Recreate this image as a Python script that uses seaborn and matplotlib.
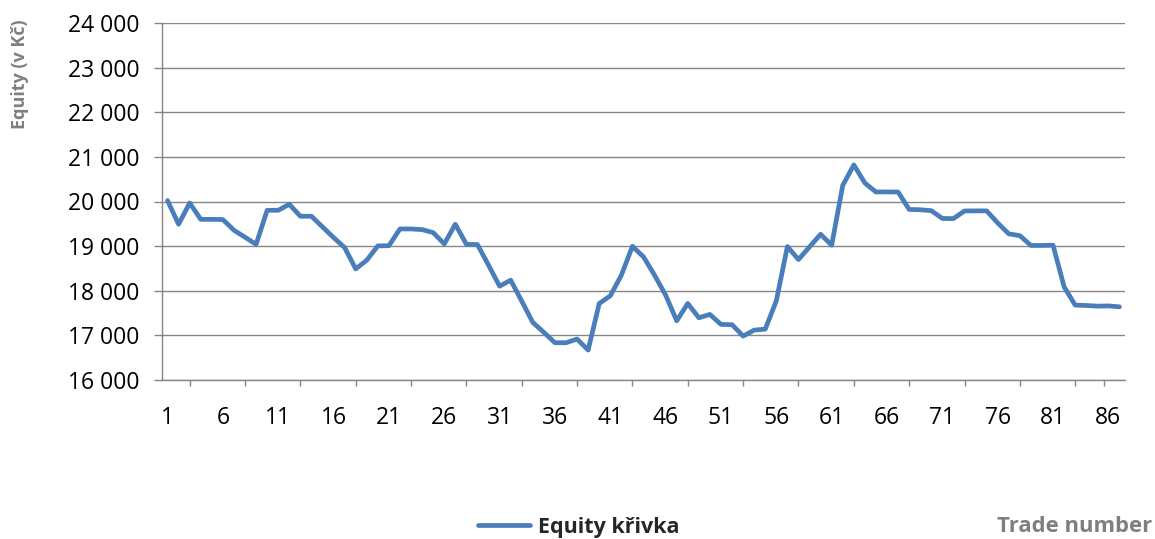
import numpy as np
import pandas as pd
import matplotlib
matplotlib.use("Agg")
import matplotlib.pyplot as plt
import seaborn as sns
from matplotlib.ticker import FixedLocator, FuncFormatter

# Equity after each trade.
equity = [
    20020, 19490, 19966, 19600, 19600, 19595, 19356, 19200, 19040, 19803,
    19803, 19937, 19670, 19670, 19430, 19192, 18968, 18490, 18685, 19005,
    19010, 19385, 19385, 19370, 19303, 19050, 19490, 19040, 19035, 18573,
    18103, 18237, 17767, 17290, 17067, 16835, 16835, 16917, 16671, 17715,
    17886, 18349, 18995, 18760, 18349, 17902, 17327, 17715, 17394, 17470,
    17246, 17240, 16984, 17118, 17140, 17775, 18990, 18700, 18983, 19266,
    19020, 20362, 20820, 20414, 20213, 20215, 20213, 19822, 19815, 19795,
    19620, 19617, 19788, 19790, 19790, 19520, 19275, 19235, 19015, 19015,
    19020, 18087, 17678, 17670, 17655, 17660, 17640,
]
trade_number = list(range(1, len(equity) + 1))
x_labels = list(range(1, len(equity) + 1, 5))
y_ticks = list(range(16000, 24001, 1000))

series_name = "Equity křivka"
df = pd.DataFrame({"Trade number": trade_number, "Equity": equity, "serie": series_name})

sns.set_style("white")
plt.rcParams["font.family"] = ["Open Sans", "DejaVu Sans"]

grey = "#868686"
fig = plt.figure(figsize=(11.55, 5.39), dpi=100)
ax = fig.add_axes([162 / 1155, 1 - 380 / 539, (1125 - 162) / 1155, (380 - 23) / 539])

sns.lineplot(data=df, x="Trade number", y="Equity", hue="serie",
             palette=["#4A7EBB"], linewidth=3.4, ax=ax, legend=False)

ax.set_xlim(0.5, len(equity) + 0.5)
ax.set_ylim(16000, 24000)
ax.set_yticks(y_ticks)
ax.yaxis.set_major_formatter(FuncFormatter(lambda v, p: f"{v:,.0f}".replace(",", " ")))
ax.set_xticks(x_labels)
ax.set_xticklabels([str(v) for v in x_labels])
ax.xaxis.set_minor_locator(FixedLocator(list(range(3, 84, 5)) + [85.6]))

ax.grid(axis="y", color=grey, linewidth=1.0)
ax.set_axisbelow(True)
for s in ["top", "right"]:
    ax.spines[s].set_visible(False)
for s in ["left", "bottom"]:
    ax.spines[s].set_color(grey)
    ax.spines[s].set_linewidth(1.0)

ax.tick_params(axis="y", which="major", left=True, length=6, width=1.0, color=grey,
               pad=10, labelsize=16.5, labelcolor="black")
ax.tick_params(axis="x", which="major", bottom=True, length=0, pad=19,
               labelsize=16.5, labelcolor="black")
ax.tick_params(axis="x", which="minor", bottom=True, length=4, width=1.0, color=grey)
ax.set_xlabel("")
ax.set_ylabel("")

# axis titles placed like the Excel original
fig.text(20 / 1155, 1 - 74 / 539, "Equity (v Kč)", rotation=90, ha="center", va="center",
         fontsize=13, fontweight="bold", color="#7f7f7f")
fig.text(1152 / 1155, 1 - 527 / 539, "Trade number", ha="right", va="center",
         fontsize=15.8, fontweight="bold", color="#7f7f7f")

handles = [plt.Line2D([], [], color="#4A7EBB", linewidth=3.4)]
fig.legend(handles, [series_name], loc="center", bbox_to_anchor=(0.501, 1 - 527 / 539),
           frameon=False, handlelength=2.4, handletextpad=0.35,
           prop={"size": 15.5, "weight": "bold"})

fig.savefig("out.png", dpi=100)
